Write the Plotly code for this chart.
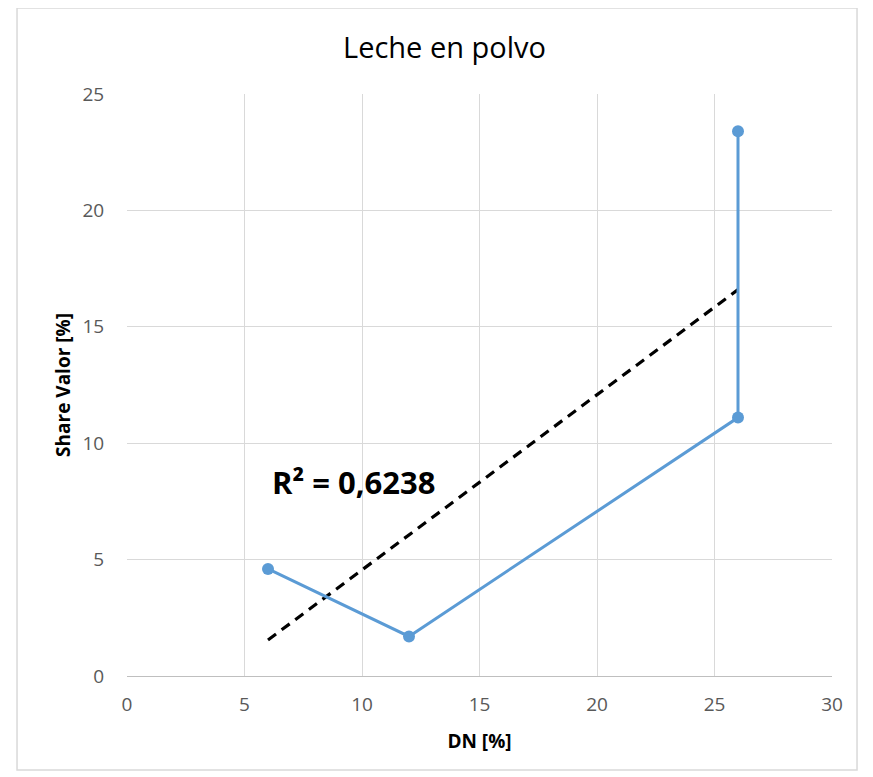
import numpy as np
import plotly.graph_objects as go

dn = [6, 12, 26, 26]
share = [4.6, 1.7, 11.1, 23.4]
x_ticks = [0, 5, 10, 15, 20, 25, 30]
y_ticks = [0, 5, 10, 15, 20, 25]
title = "Leche en polvo"
r2_label = "R² = 0,6238"

slope, intercept = np.polyfit(dn, share, 1)
tx = [min(dn), max(dn)]
ty = [slope * v + intercept for v in tx]

fig = go.Figure()
fig.add_trace(go.Scatter(x=tx, y=ty, mode="lines",
                         line=dict(color="black", width=3.2, dash="10px,7px"),
                         showlegend=False, hoverinfo="skip"))
fig.add_trace(go.Scatter(x=dn, y=share, mode="lines+markers",
                         line=dict(color="#5B9BD5", width=3),
                         marker=dict(color="#5B9BD5", size=12),
                         showlegend=False))

font_family = "Open Sans, Liberation Sans, sans-serif"
fig.update_layout(
    width=873, height=777,
    margin=dict(l=119, r=49, t=86, b=109),
    paper_bgcolor="white", plot_bgcolor="white",
    font=dict(family=font_family, color="#595959"),
    title=dict(text=title, x=0.5, xanchor="center", y=1 - 40 / 777, yanchor="middle",
               font=dict(size=29, color="#000000", family=font_family)),
    xaxis=dict(range=[0, 30], tickvals=x_ticks, showgrid=True, gridcolor="#D9D9D9",
               gridwidth=1, zeroline=False, showline=True, linecolor="#BFBFBF",
               linewidth=1, mirror=False, ticks="outside", ticklen=11,
               tickcolor="rgba(0,0,0,0)", tickfont=dict(size=19, color="#595959"),
               title=dict(text="<b>DN [%]</b>", standoff=18,
                          font=dict(size=19, color="#000000"))),
    yaxis=dict(range=[0, 25], tickvals=y_ticks, showgrid=True, gridcolor="#D9D9D9",
               gridwidth=1, zeroline=False, showline=False,
               ticks="outside", ticklen=18, tickcolor="rgba(0,0,0,0)",
               tickfont=dict(size=19, color="#595959"),
               title=dict(text="<b>Share Valor [%]</b>", standoff=6,
                          font=dict(size=19, color="#000000"))),
)

fig.add_annotation(x=6.1, y=8.33, xref="x", yref="y", text="<b>" + r2_label + "</b>",
                   showarrow=False, xanchor="left", yanchor="middle",
                   font=dict(size=31, color="#000000", family=font_family))

fig.add_shape(type="rect", xref="paper", yref="paper",
              x0=-0.156, x1=1.0355, y0=-0.1615, y1=1.1478,
              line=dict(color="#D9D9D9", width=1.5), layer="below")

fig.write_html("out.html")
